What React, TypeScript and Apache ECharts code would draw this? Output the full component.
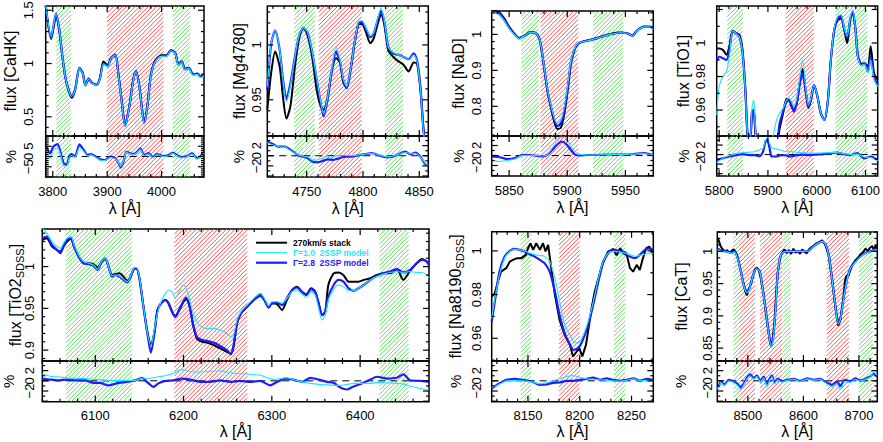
import React, { useEffect, useRef } from 'react';
import * as echarts from 'echarts';

// ---------------- CaHK ----------------
const cahkWave = [3787, 3797, 3806, 3812, 3817, 3823, 3829, 3835, 3841, 3849, 3855, 3860, 3866, 3872, 3881, 3887, 3893, 3901, 3907, 3915, 3921, 3927, 3933, 3941, 3948, 3953, 3959, 3964, 3968, 3974, 3980, 3988, 3998, 4010, 4017, 4025, 4031, 4037, 4043, 4050, 4058, 4066, 4071, 4078];
const cahkStack = [1.54, 1.23, 1.44, 1.31, 1.09, 0.87, 0.745, 0.68, 0.75, 0.955, 0.91, 0.795, 0.855, 0.815, 0.8, 0.87, 1.02, 0.985, 1.05, 1.08, 0.885, 0.64, 0.42, 0.605, 0.855, 0.93, 0.795, 0.575, 0.445, 0.605, 0.885, 1.025, 1.075, 1.08, 1.125, 1.1, 0.995, 1.02, 0.95, 0.96, 0.9, 0.905, 0.88, 0.888];
const cahkG10 = [1.56, 1.25, 1.47, 1.32, 1.1, 0.875, 0.75, 0.69, 0.75, 0.955, 0.905, 0.795, 0.855, 0.815, 0.795, 0.86, 0.995, 0.97, 1.05, 1.08, 0.875, 0.63, 0.41, 0.595, 0.845, 0.925, 0.785, 0.565, 0.435, 0.595, 0.875, 1.015, 1.065, 1.07, 1.12, 1.095, 0.985, 1.015, 0.94, 0.955, 0.89, 0.9, 0.87, 0.882];
const cahkG28 = [1.55, 1.24, 1.47, 1.32, 1.1, 0.88, 0.757, 0.695, 0.757, 0.96, 0.913, 0.8, 0.86, 0.82, 0.8, 0.866, 1.0, 0.975, 1.053, 1.084, 0.88, 0.633, 0.414, 0.6, 0.85, 0.928, 0.79, 0.57, 0.44, 0.6, 0.88, 1.02, 1.07, 1.075, 1.124, 1.1, 0.99, 1.02, 0.944, 0.96, 0.897, 0.906, 0.876, 0.888];
const cahkResWave = [3787, 3795, 3801, 3809, 3814, 3820, 3826, 3830, 3835, 3841, 3849, 3857, 3864, 3870, 3878, 3887, 3896, 3906, 3915, 3921, 3925, 3930, 3935, 3942, 3948, 3955, 3961, 3968, 3976, 3984, 3991, 4004, 4013, 4021, 4028, 4037, 4047, 4056, 4065, 4071, 4078];
const cahkResG28 = [5.6, 1.5, 4.8, 6.1, 2.3, -3.3, -4.1, 0, 1.2, 0, 5.9, 3.2, 0.7, 1.2, 0.2, -1.4, -1.7, -0.1, -0.9, -3.3, -5.4, -2.5, 2.3, 1.6, 1.2, 2.3, 4, 0.7, 1.6, -0.3, 1.2, 0.2, 0.7, 1.9, 0.7, -0.3, 0.2, 1.6, -0.9, 0, 2.3];
const cahkResG10 = [3.5, -1.0, 3.0, 4.5, 1.0, -4.5, -4.6, -1.0, 0.5, -0.5, 4.5, 2.5, 0.2, 0.8, -0.2, -1.8, -2.0, -0.5, -1.2, -3.0, -4.8, -2.2, 2.0, 1.3, 0.9, 2.0, 3.5, 0.4, 1.2, -0.6, 0.9, 0, 0.4, 1.6, 0.4, -0.6, -0.1, 1.3, -1.2, -0.3, 1.8];
const cahkXTicks = [3800, 3900, 4000];
const cahkYTicks = [0.5, 1, 1.5];
const cahkResTicks = [-5, 0, 5];
const cahkBands = [[3806.5, 3833.8, 0], [3899.5, 4003.5, 1], [4020.7, 4052.4, 0]];

// ---------------- Mg4780 ----------------
const mgWave = [4715, 4718.5, 4722, 4726, 4729, 4732, 4735.5, 4739.5, 4743, 4747, 4751, 4755, 4759, 4762.5, 4765, 4768.5, 4772, 4776, 4779.5, 4782.5, 4785.5, 4789, 4792.5, 4796, 4799, 4802.5, 4806.5, 4809.5, 4813, 4816, 4819, 4822.5, 4827, 4831.5, 4836, 4840.5, 4845, 4848, 4851, 4854, 4858];
const mgStack = [0.941, 0.975, 0.994, 0.98, 0.952, 0.933, 0.944, 0.98, 1.0045, 1.016, 1.008, 0.988, 0.958, 0.944, 0.941, 0.952, 0.975, 0.988, 0.984, 0.966, 0.9606, 0.978, 1.0015, 1.0185, 1.019, 1.012, 1.0015, 1.006, 1.019, 1.028, 1.018, 0.995, 0.989, 0.985, 0.982, 0.9758, 0.984, 0.983, 0.959, 0.92, 0.895];
const mgG10 = [0.962, 1.002, 1.013, 0.996, 0.967, 0.948, 0.963, 0.989, 1.008, 1.016, 1.011, 0.993, 0.969, 0.948, 0.937, 0.952, 0.976, 0.998, 0.987, 0.969, 0.962, 0.978, 1.002, 1.021, 1.022, 1.016, 1.008, 1.011, 1.024, 1.034, 1.022, 0.998, 0.993, 0.991, 0.989, 0.987, 0.991, 0.985, 0.96, 0.918, 0.893];
const mgG28 = [0.959, 1.0015, 1.013, 0.9955, 0.968, 0.9506, 0.965, 0.989, 1.0075, 1.015, 1.0106, 0.9924, 0.968, 0.947, 0.935, 0.95, 0.974, 0.994, 0.985, 0.968, 0.9606, 0.977, 1.0015, 1.02, 1.021, 1.015, 1.007, 1.0106, 1.0227, 1.031, 1.021, 0.998, 0.992, 0.991, 0.989, 0.987, 0.9924, 0.986, 0.962, 0.92, 0.895];
const mgResWave = [4715, 4720, 4724.5, 4729, 4733.5, 4738, 4742.5, 4747, 4751, 4755.5, 4760, 4764.5, 4769, 4773.5, 4778, 4784, 4790, 4796, 4802, 4808, 4814, 4820, 4826, 4831.5, 4837.5, 4842, 4846.5, 4851, 4855, 4858];
const mgResG28 = [2.8, 2.3, 1.8, 1.9, 1.5, 0.8, 0.1, -0.2, -0.5, -1.2, -1.3, -1, -0.7, -0.8, -0.6, -0.2, -0.2, 0.1, 0.3, 0.5, 0.1, -0.3, -0.2, 0.3, 0.8, 0.3, 0.6, -0.2, -1.6, -1.9];
const mgResG10 = [2.6, 2.1, 1.9, 2.0, 1.3, 0.7, 0.2, -0.1, -0.3, -0.9, -0.8, -0.4, -0.1, -0.2, 0.1, 0.1, 0, 0.2, 0.3, 0.5, 0.2, -0.2, -0.1, 0.3, 0.7, 0.4, 0.5, -0.3, -1.4, -2.0];
const mgXTicks = [4750, 4800, 4850];
const mgYTicks = [0.95, 1];
const mgResTicks = [-2, 0, 2];
const mgBands = [[4738.9, 4757.3, 0], [4760.8, 4798.8, 1], [4819.8, 4835.5, 0]];

// ---------------- NaD ----------------
const nadWave = [5835, 5841, 5845, 5849.5, 5854, 5858.5, 5864, 5868, 5872.5, 5876, 5878, 5880.5, 5883, 5886, 5889, 5891.5, 5894.5, 5897.5, 5900.5, 5903, 5906, 5909, 5912.5, 5920, 5928.5, 5937, 5945.5, 5951.5, 5956, 5960, 5966, 5971.5, 5974];
const nadStack = [1.066, 1.062, 1.048, 1.024, 1.004, 0.99, 0.998, 1.006, 1.004, 0.988, 0.954, 0.898, 0.842, 0.795, 0.755, 0.737, 0.741, 0.78, 0.848, 0.915, 0.955, 0.972, 0.979, 0.985, 0.993, 1.001, 1.005, 1.003, 0.997, 1.011, 1.022, 1.021, 1.018];
const nadG10 = [1.062, 1.057, 1.042, 1.019, 1.001, 0.988, 0.998, 1.006, 1.0045, 0.989, 0.957, 0.902, 0.847, 0.802, 0.767, 0.752, 0.762, 0.8, 0.862, 0.924, 0.958, 0.974, 0.979, 0.984, 0.992, 1.0, 1.0045, 1.003, 0.996, 1.01, 1.021, 1.021, 1.017];
const nadG28 = [1.063, 1.058, 1.044, 1.021, 1.003, 0.989, 0.998, 1.006, 1.0045, 0.989, 0.956, 0.901, 0.845, 0.799, 0.762, 0.745, 0.753, 0.79, 0.854, 0.919, 0.956, 0.973, 0.979, 0.984, 0.992, 1.0, 1.0045, 1.003, 0.996, 1.01, 1.021, 1.021, 1.017];
const nadResWave = [5835, 5841, 5848, 5855, 5861, 5867, 5872, 5878, 5882.5, 5887, 5891, 5895.5, 5899, 5902.5, 5906, 5909, 5912, 5917, 5923, 5934, 5946, 5957, 5966, 5974];
const nadResG28 = [-0.2, -0.3, -0.7, -0.5, 0.1, 0.1, 0, -0.2, 0.1, 1.1, 2.1, 2.8, 2.3, 1.3, 0.3, 0, 0, 0.1, 0.1, 0.2, 0.2, 0.3, 0.5, 0.1];
const nadResG10 = [-0.9, -1.2, -1.0, -0.7, 0, 0, 0, -0.1, 0.1, 1.5, 2.8, 3.7, 3.4, 2.1, 1.0, 0.4, 0.2, 0.1, 0.1, 0.2, 0.2, 0.3, 0.4, 0.1];
const nadXTicks = [5850, 5900, 5950];
const nadYTicks = [0.8, 0.9, 1];
const nadResTicks = [-2, 0, 2];
const nadBands = [[5860.6, 5875.6, 0], [5876.9, 5909.4, 1], [5922.1, 5948.1, 0]];

// ---------------- TiO1 ----------------
const tio1Wave = [5795, 5800, 5808, 5815, 5821, 5827.5, 5834.5, 5841.5, 5848, 5854, 5858.5, 5863.5, 5867.5, 5871, 5874.5, 5877.5, 5903.5, 5918.5, 5924, 5931, 5938, 5943.5, 5948.5, 5953, 5959, 5965.5, 5971, 5978, 5983, 5988, 5994.5, 6001.5, 6008.5, 6016, 6023, 6029, 6036, 6043, 6050, 6056.5, 6062.5, 6069, 6074, 6079.5, 6084.5, 6091.5, 6098, 6105, 6110.5, 6117.5, 6125];
const tio1Stack = [0.9968, 0.9968, 0.9958, 0.993, 0.998, 1.007, 1.006, 1.005, 0.9958, 0.971, 0.944, 0.942, 0.959, 0.96, 0.946, 0.94, 0.94, 0.941, 0.949, 0.958, 0.9667, 0.966, 0.962, 0.96, 0.964, 0.977, 0.9845, 0.97, 0.9612, 0.966, 0.975, 0.968, 0.958, 0.954, 0.966, 0.99, 1.008, 1.0137, 1.0147, 1.008, 0.9998, 1.0147, 1.0185, 1.008, 0.992, 0.9875, 0.988, 0.9858, 0.998, 0.982, 0.978];
const tio1G10 = [0.957, 0.974, 0.98, 0.983, 0.992, 1.007, 1.0058, 1.0038, 0.994, 0.97, 0.944, 0.942, 0.962, 0.966, 0.948, 0.94, 0.94, 0.955, 0.958, 0.961, 0.966, 0.967, 0.965, 0.962, 0.967, 0.98, 0.99, 0.972, 0.963, 0.967, 0.975, 0.968, 0.958, 0.954, 0.966, 0.99, 1.009, 1.016, 1.017, 1.009, 1.004, 1.016, 1.02, 1.008, 0.991, 0.9865, 0.9875, 0.982, 0.99, 0.978, 0.974];
const tio1G28 = [0.9888, 0.9918, 0.9909, 0.9898, 0.9958, 1.0073, 1.0058, 1.0038, 0.9939, 0.97, 0.944, 0.942, 0.959, 0.96, 0.946, 0.94, 0.94, 0.942, 0.952, 0.959, 0.965, 0.966, 0.963, 0.959, 0.964, 0.976, 0.982, 0.97, 0.962, 0.966, 0.975, 0.968, 0.958, 0.954, 0.966, 0.9899, 1.0078, 1.0147, 1.0161, 1.0078, 1.0038, 1.0147, 1.018, 1.0078, 0.9918, 0.9869, 0.9879, 0.9829, 0.9918, 0.9799, 0.975];
const tio1ResWave = [5795, 5807, 5821, 5834.5, 5848, 5862, 5872.5, 5883, 5890, 5895, 5898.5, 5903.5, 5907, 5910.5, 5917, 5924, 5931, 5938, 5945, 5952, 5959, 5972.5, 5986, 6000, 6014, 6028, 6041.5, 6055.5, 6069, 6083, 6097, 6110.5, 6125];
const tio1ResG28 = [-1.1, -0.8, -0.4, -0.1, 0.1, -0.1, -0.1, -0.4, 0.6, 2.7, 3.1, 1.3, -0.4, -0.4, -0.4, -0.2, -0.1, -0.2, -0.4, -0.3, -0.1, 0.0, -0.1, 0.0, 0.1, 0.3, 0.4, 0.1, -0.1, 0.3, -0.8, -0.4, -1.1];
const tio1ResG10 = [-1.8, -0.8, -0.2, 0.2, 0.4, 0.5, 0.6, 1.0, 1.3, 3.0, 3.4, 2.4, 1.6, 1.3, 1.2, 1.0, 0.8, 0.6, 0.6, 0.6, 0.5, 0.4, 0.3, 0.3, 0.35, 0.4, 0.4, 0.2, 0.0, 0.1, -0.5, -0.6, -1.3];
const tio1XTicks = [5800, 5900, 6000, 6100];
const tio1YTicks = [0.96, 0.98, 1];
const tio1ResTicks = [-2, 0, 2];
const tio1Bands = [[5816.6, 5849.1, 0], [5936.6, 5994.1, 1], [6038.6, 6103.6, 0]];

// ---------------- TiO2_SDSS ----------------
const tio2Wave = [6040, 6045, 6051, 6056.5, 6060.5, 6064, 6068, 6072.5, 6076, 6081, 6086.5, 6092.5, 6098, 6102.5, 6107.5, 6111.5, 6115, 6119, 6122.5, 6127.5, 6132, 6136, 6139.5, 6143.5, 6146.5, 6150, 6154.5, 6159, 6163, 6167, 6170.5, 6174.5, 6179.5, 6183, 6187, 6190.5, 6195, 6199.5, 6203, 6207, 6210.5, 6215, 6221, 6226.5, 6234, 6241.5, 6249, 6253.5, 6256.5, 6260.5, 6265, 6272, 6279.5, 6287, 6291.5, 6296.5, 6300, 6306, 6311.5, 6317, 6323, 6328.5, 6334, 6339, 6344.5, 6349, 6353, 6357, 6360.5, 6364, 6370, 6375.5, 6381, 6387, 6392.5, 6398, 6404, 6411.5, 6419, 6426.5, 6434, 6441.5, 6449, 6456.5, 6464, 6470, 6475.5, 6478];
const tio2Stack = [1.032, 1.034, 1.024, 1.02, 1.018, 1.024, 1.03, 1.033, 1.024, 1.013, 1.005, 1.004, 1.003, 0.999, 1.006, 1.009, 1.0, 0.99, 0.991, 0.992, 0.988, 0.983, 0.987, 0.997, 0.998, 0.986, 0.953, 0.922, 0.907, 0.922, 0.948, 0.956, 0.96, 0.956, 0.946, 0.94, 0.948, 0.957, 0.961, 0.952, 0.932, 0.914, 0.91, 0.909, 0.906, 0.902, 0.898, 0.896, 0.904, 0.932, 0.944, 0.952, 0.96, 0.967, 0.96, 0.952, 0.956, 0.955, 0.948, 0.96, 0.972, 0.976, 0.97, 0.967, 0.974, 0.97, 0.956, 0.942, 0.946, 0.978, 0.992, 0.993, 0.99, 0.982, 0.982, 0.982, 0.984, 0.986, 0.99, 0.992, 0.992, 0.997, 0.984, 0.995, 1.004, 1.009, 1.006, 1.002];
const tio2G10 = [1.046, 1.04, 1.03, 1.024, 1.022, 1.028, 1.034, 1.036, 1.026, 1.014, 1.006, 1.004, 1.002, 0.997, 1.007, 1.01, 1.0, 0.989, 0.99, 0.989, 0.985, 0.982, 0.987, 0.998, 0.999, 0.987, 0.953, 0.921, 0.905, 0.925, 0.944, 0.958, 0.968, 0.972, 0.97, 0.962, 0.97, 0.978, 0.974, 0.96, 0.945, 0.934, 0.927, 0.926, 0.926, 0.924, 0.92, 0.916, 0.918, 0.936, 0.946, 0.954, 0.962, 0.968, 0.962, 0.953, 0.958, 0.958, 0.956, 0.962, 0.97, 0.972, 0.967, 0.963, 0.97, 0.966, 0.95, 0.936, 0.942, 0.96, 0.973, 0.978, 0.976, 0.971, 0.971, 0.974, 0.978, 0.984, 0.988, 0.991, 0.993, 0.994, 0.993, 0.994, 0.993, 0.993, 0.99, 0.986];
const tio2G28 = [1.034, 1.036, 1.026, 1.02, 1.016, 1.024, 1.032, 1.034, 1.024, 1.012, 1.004, 1.003, 1.001, 0.996, 1.006, 1.01, 1.0, 0.988, 0.99, 0.988, 0.984, 0.981, 0.986, 0.997, 0.998, 0.986, 0.952, 0.92, 0.897, 0.92, 0.948, 0.956, 0.96, 0.956, 0.946, 0.94, 0.948, 0.958, 0.963, 0.952, 0.932, 0.916, 0.912, 0.911, 0.909, 0.905, 0.9, 0.895, 0.904, 0.932, 0.944, 0.952, 0.96, 0.965, 0.96, 0.951, 0.956, 0.957, 0.954, 0.962, 0.972, 0.975, 0.97, 0.966, 0.973, 0.97, 0.956, 0.942, 0.946, 0.964, 0.978, 0.984, 0.982, 0.974, 0.971, 0.974, 0.978, 0.984, 0.989, 0.992, 0.994, 0.997, 0.993, 0.996, 1.004, 1.008, 1.006, 1.002];
const tio2ResWave = [6040, 6049, 6058.5, 6068, 6077, 6088.5, 6098, 6105.5, 6115, 6124.5, 6136, 6145.5, 6153, 6158.5, 6166, 6171.5, 6179.5, 6188.5, 6198, 6207.5, 6219, 6230, 6241.5, 6253, 6264, 6275.5, 6287, 6298, 6306, 6315, 6324.5, 6334, 6343.5, 6353, 6362.5, 6370, 6377.5, 6385, 6392.5, 6402, 6411.5, 6419, 6430.5, 6441.5, 6449, 6456.5, 6468, 6478];
const tio2ResG28 = [0.45, 0.25, 0.1, 0.25, 0.1, 0.1, -0.4, -0.4, -0.9, -0.5, -0.2, 0.1, 0.6, -0.2, -1.2, -0.5, 0, 0.1, 0.45, 0.25, -0.2, -0.2, 0.1, -0.2, 0, -0.2, 0, -0.9, -0.2, 0.45, 0.25, -0.2, 0.6, 0.25, -0.2, -0.4, -1.3, -1.7, -1.1, -0.5, 0.25, 0.8, 0.45, 0.6, 1.3, 0.1, 0, -0.2];
const tio2ResG10 = [1.4, 0.9, 0.75, 0.6, 0.5, 0.45, 0.3, 0.2, 0.1, 0.1, 0.1, 0.1, 0.5, 0.5, 0.6, 0.8, 1.0, 1.5, 2.2, 1.8, 1.75, 1.9, 1.95, 1.6, 1.4, 1.3, 1.1, 0.4, 0.3, 0.6, 0.25, -0.2, -0.5, -0.7, -0.8, -0.9, -0.9, -0.7, -0.5, -0.5, -0.5, -0.3, -0.4, -0.5, -0.6, -1.0, -1.5, -1.8];
const tio2XTicks = [6100, 6200, 6300, 6400];
const tio2YTicks = [0.9, 0.95, 1];
const tio2ResTicks = [-2, 0, 2];
const tio2Bands = [[6066.6, 6141.6, 0], [6189.6, 6272.1, 1], [6422.0, 6455.0, 0]];

// ---------------- Na8190_SDSS ----------------
const na8Wave = [8115, 8118, 8122.5, 8127.5, 8132.5, 8137, 8142, 8147, 8151.5, 8156.5, 8161.5, 8166, 8171, 8176, 8180.5, 8185.5, 8190.5, 8194, 8198.5, 8203, 8208, 8213, 8218, 8222.5, 8227.5, 8232.5, 8239, 8243.5, 8248.5, 8253.5, 8258, 8263, 8268, 8271];
const na8G10 = [0.9692, 0.978, 0.989, 0.9968, 0.9998, 1.0009, 1.0005, 1.0, 0.999, 0.9983, 0.9979, 0.9975, 0.9951, 0.9875, 0.977, 0.9661, 0.9616, 0.9585, 0.9578, 0.961, 0.9676, 0.9765, 0.9875, 0.9951, 0.999, 0.9998, 0.9995, 0.999, 0.9982, 0.9975, 0.998, 0.9985, 0.999, 0.9988];
const na8G28 = [0.9676, 0.9768, 0.9905, 0.9974, 1.0, 1.0009, 1.0005, 0.9997, 0.9985, 0.9974, 0.9959, 0.9944, 0.9905, 0.9814, 0.9707, 0.9623, 0.957, 0.9547, 0.9555, 0.9593, 0.9661, 0.9753, 0.986, 0.9944, 0.9989, 1.0005, 1.0, 0.9994, 0.9974, 0.9967, 0.9982, 1.0005, 1.0012, 1.0005];
const na8StackWave = [8115, 8118, 8121, 8124, 8129, 8132.5, 8135.5, 8139, 8143.5, 8148, 8150, 8152.5, 8155, 8158, 8161.5, 8164.5, 8167, 8169.5, 8172.5, 8176, 8180.5, 8185.5, 8190.5, 8193.5, 8197, 8199.5, 8202.5, 8206, 8208, 8211.5, 8214.5, 8218, 8222.5, 8227.5, 8232.5, 8235.5, 8239, 8242, 8245.5, 8248.5, 8251.5, 8255, 8258, 8260.5, 8264, 8267, 8271];
const na8Stack = [0.9791, 0.9806, 0.986, 0.9905, 0.9921, 0.9951, 0.9959, 0.9966, 0.9966, 0.9982, 1.0012, 1.0035, 1.0005, 1.0035, 1.0005, 1.0035, 0.9998, 1.0028, 0.9921, 0.9799, 0.9684, 0.9615, 0.957, 0.9517, 0.9539, 0.9555, 0.9517, 0.957, 0.9631, 0.974, 0.9814, 0.9875, 0.9951, 0.9997, 1.0009, 0.998, 1.0012, 0.999, 0.998, 0.9921, 0.9905, 0.9936, 0.9913, 0.9959, 1.0012, 1.002, 0.9982];
const na8ResWave = [8115, 8121, 8129, 8137, 8145, 8153, 8161, 8168, 8174, 8181, 8187, 8194, 8200, 8206.5, 8213, 8219.5, 8226, 8232, 8239, 8245, 8252, 8258, 8265, 8271];
const na8ResG28 = [-1.5, -0.65, 0.2, 0.4, 0.2, -0.1, -0.8, -0.7, -0.4, -0.3, 0, 0, 0.2, 0.4, 0.65, 0.2, 0.5, 0.2, 0, 0.2, 0.5, 0, 0.4, 0.2];
const na8ResG10 = [-1.3, -0.8, 0, 0.1, 0, -0.2, -0.6, -0.4, 0, 0.4, 0.85, 1.05, 0.7, 0.4, 0.3, 0.2, 0.1, 0, -0.1, 0.1, 0.4, 0, 0.1, 0];
const na8XTicks = [8150, 8200, 8250];
const na8YTicks = [0.96, 0.98, 1];
const na8ResTicks = [-2, 0, 2];
const na8Bands = [[8143, 8153, 0], [8180, 8200, 1], [8233, 8244, 0]];

// ---------------- CaT ----------------
const catWave = [8445.5, 8453.5, 8462.5, 8471.5, 8476, 8481.5, 8487.5, 8493.5, 8498.5, 8503, 8509.5, 8515.5, 8521.5, 8527.5, 8533.5, 8537.5, 8542, 8545.5, 8549.5, 8553.5, 8558.5, 8564.5, 8576.5, 8588.5, 8600.5, 8609.5, 8618.5, 8627.5, 8633.5, 8639.5, 8645.5, 8651.5, 8657.5, 8662.5, 8666.5, 8671.5, 8677.5, 8684.5, 8693.5, 8702.5, 8711.5, 8720.5, 8729.5, 8733];
const catG10 = [1.003, 1.0, 0.999, 0.997, 0.999, 0.989, 0.968, 0.944, 0.936, 0.942, 0.963, 0.973, 0.968, 0.936, 0.899, 0.872, 0.851, 0.862, 0.904, 0.963, 0.992, 0.999, 1.0, 1.0, 1.0, 1.001, 1.008, 1.013, 1.0156, 1.0116, 0.994, 0.957, 0.915, 0.887, 0.894, 0.921, 0.952, 0.973, 0.983, 0.991, 0.997, 0.9995, 1.0025, 1.002];
const catG28 = [1.004, 1.001, 1.0, 0.9975, 1.0, 0.9897, 0.969, 0.945, 0.9375, 0.943, 0.9636, 0.974, 0.969, 0.9375, 0.901, 0.875, 0.855, 0.865, 0.906, 0.9636, 0.992, 0.999, 1.0, 1.0, 1.0, 1.001, 1.008, 1.013, 1.0156, 1.0116, 0.995, 0.9584, 0.9167, 0.8906, 0.896, 0.922, 0.953, 0.974, 0.984, 0.992, 0.9975, 1.0, 1.0027, 1.002];
const catStackWave = [8445.5, 8448, 8451, 8454, 8458, 8462.5, 8466, 8470, 8474.5, 8478, 8481.5, 8485, 8489, 8493.5, 8496, 8498.5, 8501, 8505, 8509.5, 8513, 8516, 8520, 8524, 8528, 8533, 8537.5, 8540, 8542, 8544.5, 8548, 8551, 8554, 8558, 8562, 8566, 8570, 8574, 8578, 8582, 8586, 8590, 8594, 8598, 8602, 8606, 8610, 8614, 8618.5, 8623, 8627.5, 8633.5, 8639.5, 8645.5, 8651.5, 8657.5, 8662.5, 8666.5, 8671.5, 8675, 8678, 8681, 8685, 8689, 8693.5, 8698, 8702.5, 8707, 8711.5, 8716, 8720.5, 8724, 8727, 8730, 8733];
const catStack = [1.021, 1.016, 1.008, 1.004, 1.0, 1.002, 0.998, 1.0, 1.003, 0.999, 0.992, 0.978, 0.962, 0.945, 0.936, 0.932, 0.94, 0.948, 0.962, 0.972, 0.975, 0.97, 0.955, 0.935, 0.9, 0.872, 0.858, 0.852, 0.862, 0.89, 0.935, 0.968, 0.99, 0.998, 1.003, 0.997, 1.002, 0.996, 1.004, 0.998, 1.001, 0.996, 1.003, 0.999, 0.997, 1.003, 1.006, 1.009, 1.012, 1.014, 1.017, 1.01, 0.994, 0.956, 0.913, 0.885, 0.893, 0.925, 0.955, 0.963, 0.962, 0.972, 0.98, 0.986, 0.99, 0.995, 0.998, 1.004, 1.001, 1.006, 1.008, 1.002, 1.009, 1.004];
const catResWave = [8445.5, 8451.5, 8457.5, 8465.5, 8474.5, 8481.5, 8487.5, 8493.5, 8499.5, 8504.5, 8510.5, 8516.5, 8522.5, 8528.5, 8534.5, 8539.5, 8543.5, 8547.5, 8553.5, 8561.5, 8570.5, 8582.5, 8594.5, 8606.5, 8618.5, 8630.5, 8642.5, 8651.5, 8660.5, 8666.5, 8674, 8684.5, 8693.5, 8702.5, 8711.5, 8720.5, 8726.5, 8733];
const catResG28 = [-1.4, -0.1, -0.8, 0.2, -0.1, -0.6, -1.4, -0.4, 0.85, 1.3, 0.45, 1.1, -0.1, 0.85, -0.8, 0.5, 1.1, -0.4, 0.45, -0.1, 0.2, 0.4, -0.05, 0.5, 0.2, 0.4, -0.4, -0.8, -0.1, -1.1, 0.2, -0.1, 0.5, 0, 0.4, 0.85, 1.5, 0.85];
const catResG10 = [-1.6, -0.3, -1.0, 0.0, -0.3, -0.9, -1.8, -0.6, 0.6, 1.0, 0.3, 0.9, -0.3, 0.6, -1.2, 0.2, 0.8, -0.7, 0.2, -0.3, 0.1, 0.3, -0.15, 0.4, 0.1, 0.3, -0.6, -1.2, -0.5, -1.8, -0.1, -0.3, 0.3, -0.1, 0.3, 0.7, 1.8, 1.0];
const catXTicks = [8500, 8600, 8700];
const catYTicks = [0.85, 0.9, 0.95, 1];
const catResTicks = [-2, 0, 2];
const catBands = [[8474, 8484, 0], [8484, 8513, 1], [8522, 8562, 1], [8563, 8577, 0], [8642, 8682, 1], [8700, 8725, 0]];

const legendLabels = ['270km/s stack', '\u0393=1.0  2SSP model', '\u0393=2.8  2SSP model'];

// --------------------------------------------------------------
const FONT = '"Liberation Sans", Arial, Helvetica, sans-serif';
const C_STACK = '#000000';
const C_G10 = '#19e8ff';
const C_G28 = '#1c1cff';

const panels: any[] = [
  { name: 'flux [CaHK]', left: 45.7, top: 6, width: 158.3, mainH: 130, resH: 41,
    xMin: 3787, xMax: 4078, xMajor: 100, xMinor: 20, xTicks: cahkXTicks,
    yMin: 0.32, yMax: 1.54, yMajor: 0.5, yMinor: 0.1, yTicks: cahkYTicks,
    rMin: -10, rMax: 10, rMajor: 5, rMinor: 1, rTicks: cahkResTicks,
    yLab: 17.4, nameDist: 35.7, resNameDist: 35.7, xLab: 14.7, xNameDist: 31,
    wave: cahkWave, stackWave: cahkWave, stack: cahkStack, g10: cahkG10, g28: cahkG28,
    resWave: cahkResWave, resG10: cahkResG10, resG28: cahkResG28, bands: cahkBands, noisy: false },
  { name: 'flux [Mg4780]', left: 267.3, top: 6, width: 161, mainH: 130, resH: 41,
    xMin: 4715, xMax: 4858, xMajor: 50, xMinor: 10, xTicks: mgXTicks,
    yMin: 0.917, yMax: 1.0355, yMajor: 0.05, yMinor: 0.01, yTicks: mgYTicks,
    rMin: -4.2, rMax: 3.9, rMajor: 2, rMinor: 1, rTicks: mgResTicks,
    yLab: 10.6, nameDist: 28, resNameDist: 29, xLab: 14.7, xNameDist: 31,
    wave: mgWave, stackWave: mgWave, stack: mgStack, g10: mgG10, g28: mgG28,
    resWave: mgResWave, resG10: mgResG10, resG28: mgResG28, bands: mgBands, noisy: false },
  { name: 'flux [NaD]', left: 491.7, top: 11, width: 161.6, mainH: 125, resH: 40,
    xMin: 5835, xMax: 5974, xMajor: 50, xMinor: 10, xTicks: nadXTicks,
    yMin: 0.7175, yMax: 1.065, yMajor: 0.1, yMinor: 0.02, yTicks: nadYTicks,
    rMin: -4.1, rMax: 3.9, rMajor: 2, rMinor: 1, rTicks: nadResTicks,
    yLab: 15, nameDist: 33.7, resNameDist: 33.4, xLab: 14.7, xNameDist: 31,
    wave: nadWave, stackWave: nadWave, stack: nadStack, g10: nadG10, g28: nadG28,
    resWave: nadResWave, resG10: nadResG10, resG28: nadResG28, bands: nadBands, noisy: false },
  { name: 'flux [TiO1]', left: 716.7, top: 6, width: 161, mainH: 130, resH: 40,
    xMin: 5795, xMax: 6125, xMajor: 100, xMinor: 20, xTicks: tio1XTicks,
    yMin: 0.9445, yMax: 1.0221, yMajor: 0.02, yMinor: 0.01, yTicks: tio1YTicks,
    rMin: -4.5, rMax: 3.9, rMajor: 2, rMinor: 1, rTicks: tio1ResTicks,
    yLab: 16.7, nameDist: 33.4, resNameDist: 33.4, xLab: 14.7, xNameDist: 31,
    wave: tio1Wave, stackWave: tio1Wave, stack: tio1Stack, g10: tio1G10, g28: tio1G28,
    resWave: tio1ResWave, resG10: tio1ResG10, resG28: tio1ResG28, bands: tio1Bands, noisy: false },
  { name: 'flux [TiO2', sub: 'SDSS', left: 42.3, top: 229, width: 386.7, mainH: 132, resH: 40.7,
    xMin: 6040, xMax: 6478, xMajor: 100, xMinor: 20, xTicks: tio2XTicks,
    yMin: 0.887, yMax: 1.045, yMajor: 0.05, yMinor: 0.01, yTicks: tio2YTicks,
    rMin: -4.1, rMax: 3.9, rMajor: 2, rMinor: 1, rTicks: tio2ResTicks,
    yLab: 13.3, nameDist: 27, resNameDist: 34, xLab: 13.3, xNameDist: 30,
    wave: tio2Wave, stackWave: tio2Wave, stack: tio2Stack, g10: tio2G10, g28: tio2G28,
    resWave: tio2ResWave, resG10: tio2ResG10, resG28: tio2ResG28, bands: tio2Bands, noisy: false },
  { name: 'flux [Na8190', sub: 'SDSS', left: 491.7, top: 231.7, width: 161.6, mainH: 129.3, resH: 40.7,
    xMin: 8115, xMax: 8271, xMajor: 50, xMinor: 10, xTicks: na8XTicks,
    yMin: 0.9496, yMax: 1.0088, yMajor: 0.02, yMinor: 0.01, yTicks: na8YTicks,
    rMin: -4.1, rMax: 3.9, rMajor: 2, rMinor: 1, rTicks: na8ResTicks,
    yLab: 15, nameDist: 36.7, resNameDist: 36.7, xLab: 13.3, xNameDist: 30,
    wave: na8Wave, stackWave: na8StackWave, stack: na8Stack, g10: na8G10, g28: na8G28,
    resWave: na8ResWave, resG10: na8ResG10, resG28: na8ResG28, bands: na8Bands, noisy: true },
  { name: 'flux [CaT]', left: 717.3, top: 232, width: 160, mainH: 129, resH: 40.7,
    xMin: 8445, xMax: 8733, xMajor: 100, xMinor: 20, xTicks: catXTicks,
    yMin: 0.83, yMax: 1.03, yMajor: 0.05, yMinor: 0.01, yTicks: catYTicks,
    rMin: -4.1, rMax: 3.9, rMajor: 2, rMinor: 1, rTicks: catResTicks,
    yLab: 10, nameDist: 35.6, resNameDist: 37, xLab: 13.3, xNameDist: 30,
    wave: catWave, stackWave: catStackWave, stack: catStack, g10: catG10, g28: catG28,
    resWave: catResWave, resG10: catResG10, resG28: catResG28, bands: catBands, noisy: true },
];

function fmt(v: number): string {
  const s = String(parseFloat(v.toFixed(4)));
  return v < 0 ? '\u2212' + s.slice(1) : s;
}

function zip(xs: number[], ys: number[]) {
  return xs.map((x, i) => [x, ys[i]]);
}

function textStyle(text: string, size: number, align: string, vAlign: string, extra: any = {}) {
  return {
    text, fill: '#000', fontSize: size, fontFamily: FONT,
    align, verticalAlign: vAlign, textAlign: align, textVerticalAlign: vAlign, ...extra,
  };
}

function makeFrame(p: any, isRes: boolean) {
  const yMin = isRes ? p.rMin : p.yMin;
  const yMax = isRes ? p.rMax : p.yMax;
  const yMajor = isRes ? p.rMajor : p.yMajor;
  const yMinor = isRes ? p.rMinor : p.yMinor;
  const yLabels: number[] = isRes ? p.rTicks : p.yTicks;
  return (params: any, api: any) => {
    const cs = params.coordSys;
    const L = cs.x, T = cs.y, R = cs.x + cs.width, B = cs.y + cs.height;
    const ch: any[] = [];
    const seg = (x1: number, y1: number, x2: number, y2: number) =>
      ch.push({ type: 'line', shape: { x1, y1, x2, y2 }, style: { stroke: '#000', lineWidth: 1.2 } });
    const isMul = (v: number, s: number) => Math.abs(v / s - Math.round(v / s)) < 1e-6;
    for (let k = Math.ceil(p.xMin / p.xMinor - 1e-9); k * p.xMinor <= p.xMax + 1e-9; k++) {
      const v = k * p.xMinor;
      const x = api.coord([v, yMin])[0];
      const len = isMul(v, p.xMajor) ? 6 : 3;
      seg(x, B, x, B - len);
      seg(x, T, x, T + len);
    }
    for (let k = Math.ceil(yMin / yMinor - 1e-9); k * yMinor <= yMax + 1e-9; k++) {
      const v = k * yMinor;
      const y = api.coord([p.xMin, v])[1];
      const len = isMul(v, yMajor) ? 6 : 3;
      seg(L, y, L + len, y);
      seg(R, y, R - len, y);
    }
    for (const t of yLabels) {
      const y = api.coord([p.xMin, t])[1];
      ch.push({ type: 'text', x: L - p.yLab, y, rotation: Math.PI / 2,
        style: textStyle(fmt(t), 13, 'center', 'middle') });
    }
    const midY = (T + B) / 2;
    if (isRes) {
      for (const t of p.xTicks) {
        const x = api.coord([t, yMin])[0];
        ch.push({ type: 'text', x, y: B + p.xLab, style: textStyle(String(t), 13, 'center', 'middle') });
      }
      ch.push({ type: 'text', x: (L + R) / 2, y: B + p.xNameDist,
        style: textStyle('\u03bb [\u00c5]', 16, 'center', 'middle') });
      ch.push({ type: 'text', x: L - p.resNameDist, y: midY, rotation: Math.PI / 2,
        style: textStyle('%', 15, 'center', 'middle') });
    } else {
      if (p.sub) {
        ch.push({ type: 'text', x: L - p.nameDist, y: midY, rotation: Math.PI / 2,
          style: textStyle('{n|' + p.name + '}{s|' + p.sub + '}{n|]}', 16, 'center', 'middle', {
            rich: {
              n: { fontSize: 16, fontFamily: FONT, fill: '#000', lineHeight: 20, verticalAlign: 'middle' },
              s: { fontSize: 11, fontFamily: FONT, fill: '#000', lineHeight: 9, verticalAlign: 'bottom' },
            },
          }) });
      } else {
        ch.push({ type: 'text', x: L - p.nameDist, y: midY, rotation: Math.PI / 2,
          style: textStyle(p.name, 16, 'center', 'middle') });
      }
    }
    return { type: 'group', children: ch };
  };
}

function makeHatch(p: any, isRes: boolean) {
  const yMin = isRes ? p.rMin : p.yMin;
  return (params: any, api: any) => {
    const a = api.value(0), b = api.value(1), kind = api.value(2);
    const cs = params.coordSys;
    const T = cs.y, B = cs.y + cs.height;
    const L = Math.max(cs.x, api.coord([a, yMin])[0]);
    const R = Math.min(cs.x + cs.width, api.coord([b, yMin])[0]);
    const s = 4.3;
    const color = kind > 0.5 ? '#f04848' : '#55d455';
    const ch: any[] = [];
    for (let c = Math.ceil((L + T) / s) * s; c <= R + B; c += s) {
      const xa = Math.max(L, c - B);
      const xb = Math.min(R, c - T);
      if (xb > xa) {
        ch.push({ type: 'line', shape: { x1: xa, y1: c - xa, x2: xb, y2: c - xb },
          style: { stroke: color, lineWidth: 0.9 } });
      }
    }
    return { type: 'group', children: ch };
  };
}

function buildOption() {
  const grid: any[] = [];
  const xAxis: any[] = [];
  const yAxis: any[] = [];
  const series: any[] = [];
  panels.forEach((p, i) => {
    const gMain = 2 * i, gRes = 2 * i + 1;
    grid.push({ left: p.left, top: p.top, width: p.width, height: p.mainH, show: true,
      borderColor: '#000', borderWidth: 1.5, backgroundColor: 'rgba(0,0,0,0)', containLabel: false, outerBoundsMode: 'none' });
    grid.push({ left: p.left, top: p.top + p.mainH, width: p.width, height: p.resH, show: true,
      borderColor: '#000', borderWidth: 1.5, backgroundColor: 'rgba(0,0,0,0)', containLabel: false, outerBoundsMode: 'none' });
    const axBase = { type: 'value', axisLine: { show: false }, axisTick: { show: false },
      axisLabel: { show: false }, splitLine: { show: false }, scale: true };
    xAxis.push({ ...axBase, gridIndex: gMain, min: p.xMin, max: p.xMax });
    xAxis.push({ ...axBase, gridIndex: gRes, min: p.xMin, max: p.xMax });
    yAxis.push({ ...axBase, gridIndex: gMain, min: p.yMin, max: p.yMax });
    yAxis.push({ ...axBase, gridIndex: gRes, min: p.rMin, max: p.rMax });

    // hatched index / continuum bands
    series.push({ type: 'custom', xAxisIndex: gMain, yAxisIndex: gMain, renderItem: makeHatch(p, false),
      data: p.bands, encode: { x: [0, 1], y: 2 }, z: 1, silent: true, clip: false });
    series.push({ type: 'custom', xAxisIndex: gRes, yAxisIndex: gRes, renderItem: makeHatch(p, true),
      data: p.bands, encode: { x: [0, 1], y: 2 }, z: 1, silent: true, clip: false });

    const lineBase = { type: 'line', showSymbol: false, symbol: 'none', silent: true, clip: true };
    // main spectra
    series.push({ ...lineBase, xAxisIndex: gMain, yAxisIndex: gMain, data: zip(p.stackWave, p.stack),
      smooth: p.noisy ? false : 0.25, lineStyle: { color: C_STACK, width: 2 }, z: 3 });
    series.push({ ...lineBase, xAxisIndex: gMain, yAxisIndex: gMain, data: zip(p.wave, p.g28),
      smooth: 0.25, lineStyle: { color: C_G28, width: 2.2 }, z: 4 });
    series.push({ ...lineBase, xAxisIndex: gMain, yAxisIndex: gMain, data: zip(p.wave, p.g10),
      smooth: 0.25, lineStyle: { color: C_G10, width: 1.1 }, z: 5 });
    // residuals
    series.push({ ...lineBase, xAxisIndex: gRes, yAxisIndex: gRes, data: [[p.xMin, 0], [p.xMax, 0]],
      lineStyle: { color: '#000', width: 1, type: [7, 5] }, z: 2 });
    series.push({ ...lineBase, xAxisIndex: gRes, yAxisIndex: gRes, data: zip(p.resWave, p.resG28),
      smooth: p.noisy ? false : 0.2, lineStyle: { color: C_G28, width: 2.2 }, z: 4 });
    series.push({ ...lineBase, xAxisIndex: gRes, yAxisIndex: gRes, data: zip(p.resWave, p.resG10),
      smooth: p.noisy ? false : 0.2, lineStyle: { color: C_G10, width: 1.1 }, z: 5 });

    // frame: ticks, tick labels, axis titles
    series.push({ type: 'custom', xAxisIndex: gMain, yAxisIndex: gMain, renderItem: makeFrame(p, false),
      data: [[p.xMin, p.yMin]], z: 10, silent: true, clip: false });
    series.push({ type: 'custom', xAxisIndex: gRes, yAxisIndex: gRes, renderItem: makeFrame(p, true),
      data: [[p.xMin, p.rMin]], z: 10, silent: true, clip: false });
  });

  const legColors = [C_STACK, C_G10, C_G28];
  const legWidths = [2, 1.2, 2.2];
  const graphic: any[] = [];
  legendLabels.forEach((lab, i) => {
    const y = 242.7 + i * 10;
    graphic.push({ type: 'line', shape: { x1: 256, y1: y, x2: 287, y2: y },
      style: { stroke: legColors[i], lineWidth: legWidths[i] }, z: 20 });
    graphic.push({ type: 'text', x: 293, y, z: 20,
      style: { text: lab, fill: legColors[i], font: 'bold 8.5px ' + FONT,
        align: 'left', verticalAlign: 'middle', textAlign: 'left', textVerticalAlign: 'middle' } });
  });

  return { animation: false, backgroundColor: '#ffffff', grid, xAxis, yAxis, series, graphic };
}

export default function App() {
  const ref = useRef<HTMLDivElement>(null);
  useEffect(() => {
    if (!ref.current) return;
    const chart = echarts.init(ref.current, undefined, { renderer: 'svg' });
    chart.setOption(buildOption() as any);
    return () => chart.dispose();
  }, []);
  return (
    <div ref={ref} style={{ position: 'absolute', left: 0, top: 0, width: 883, height: 442, background: '#fff' }} />
  );
}
